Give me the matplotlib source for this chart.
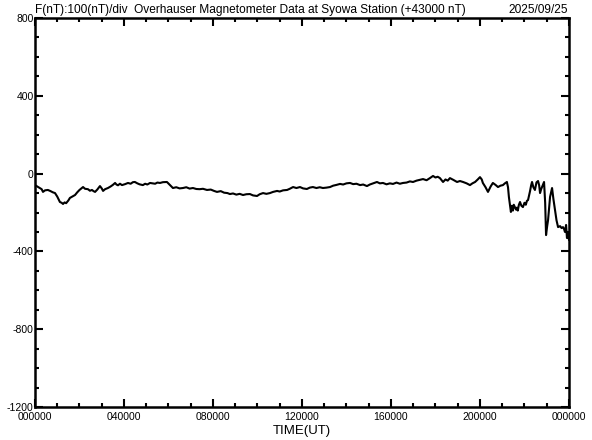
import matplotlib
matplotlib.use('Agg')
import matplotlib.pyplot as plt
from matplotlib.ticker import MultipleLocator

plt.rcParams['font.family'] = ['Liberation Sans', 'DejaVu Sans']

# Время (часы UT) и значения F - 43000 (нТл)
hours = [0.0, 0.10, 0.22, 0.30, 0.36, 0.45, 0.58, 0.70, 0.80, 0.90, 1.00, 1.12,
         1.20, 1.26, 1.33, 1.40, 1.50, 1.57, 1.68, 1.80, 1.90, 2.00, 2.16, 2.25,
         2.38, 2.47, 2.56, 2.63, 2.70, 2.80, 2.92, 3.00, 3.06, 3.15, 3.28, 3.40,
         3.50, 3.60, 3.66, 3.73, 3.82, 3.91, 4.05, 4.18, 4.30, 4.40, 4.49, 4.60,
         4.70, 4.85, 4.95, 5.05, 5.17, 5.28, 5.40, 5.50, 5.62, 5.75, 5.93, 6.07,
         6.20, 6.35, 6.50, 6.65, 6.80, 6.95, 7.10, 7.25, 7.40, 7.55, 7.73, 7.90,
         8.05, 8.18, 8.35, 8.50, 8.65, 8.76, 8.90, 9.05, 9.20, 9.35, 9.50, 9.66,
         9.80, 9.98, 10.10, 10.25, 10.40, 10.56, 10.70, 10.88, 11.00, 11.15,
         11.33, 11.45, 11.60, 11.75, 11.91, 12.05, 12.22, 12.35, 12.49, 12.65,
         12.80, 12.94, 13.10, 13.26, 13.40, 13.55, 13.71, 13.85, 14.00, 14.16,
         14.30, 14.45, 14.61, 14.75, 14.92, 15.05, 15.20, 15.37, 15.50, 15.64,
         15.80, 15.95, 16.09, 16.25, 16.40, 16.54, 16.70, 16.85, 16.99, 17.15,
         17.30, 17.44, 17.60, 17.75, 17.89, 18.00, 18.10, 18.20, 18.34, 18.45,
         18.55, 18.65, 18.80, 18.97, 19.10, 19.24, 19.40, 19.55, 19.66, 19.78,
         19.90, 20.0, 20.08, 20.13, 20.25, 20.36, 20.48, 20.58, 20.70, 20.81,
         20.92, 21.03, 21.12, 21.21, 21.26, 21.30, 21.39, 21.44, 21.48, 21.52,
         21.57, 21.62, 21.66, 21.70, 21.75, 21.80, 21.86, 21.93, 22.00, 22.06,
         22.11, 22.16, 22.21, 22.25, 22.30, 22.34, 22.40, 22.47, 22.54, 22.61,
         22.66, 22.70, 22.75, 22.79, 22.84, 22.88, 22.93, 22.97, 23.02, 23.06,
         23.15, 23.24, 23.30, 23.37, 23.44, 23.51, 23.60, 23.67, 23.73, 23.78,
         23.82, 23.87, 23.91, 23.95, 24.0]
values = [-59, -66, -75, -80, -94, -86, -84, -90, -96, -100, -118, -146,
          -150, -156, -148, -152, -138, -125, -118, -110, -96, -84, -69, -78,
          -80, -88, -84, -90, -94, -82, -64, -76, -89, -80, -74, -66,
          -58, -48, -56, -60, -52, -59, -54, -48, -52, -44, -43, -50,
          -55, -59, -52, -56, -48, -50, -52, -46, -48, -44, -43, -59,
          -74, -70, -76, -74, -70, -77, -74, -79, -80, -78, -84, -82,
          -89, -94, -90, -98, -100, -105, -102, -108, -104, -110, -106, -105,
          -112, -115, -106, -100, -104, -100, -94, -89, -92, -86,
          -84, -78, -69, -74, -69, -76, -79, -72, -69, -74,
          -70, -74, -72, -69, -62, -58, -53, -56, -50, -48,
          -54, -52, -59, -56, -64, -56, -50, -43, -50, -48,
          -55, -50, -53, -46, -52, -48, -46, -40, -43, -36,
          -32, -28, -34, -23, -12, -20, -16, -23, -43, -30,
          -36, -23, -32, -43, -38, -43, -50, -59, -50, -43,
          -30, -18, -30, -48, -70, -94, -66, -48, -58, -69,
          -62, -59, -50, -43, -70, -120, -197, -165, -190, -160,
          -172, -185, -175, -190, -160, -146, -165, -172, -150, -160,
          -140, -136, -110, -90, -60, -43, -70, -84, -45, -38,
          -60, -100, -80, -69, -55, -43, -150, -316, -270, -239,
          -120, -74, -130, -187, -240, -275, -270, -280, -275, -285,
          -300, -264, -331, -300, -340]

xticks = [0, 4, 8, 12, 16, 20, 24]
xlabels = ['000000', '040000', '080000', '120000', '160000', '200000', '000000']
yticks = [-1200, -800, -400, 0, 400, 800]

fig = plt.figure(figsize=(5.92, 4.40), dpi=100, facecolor='white')
ax = fig.add_axes([0.0591, 0.075, 0.902, 0.884])

ax.plot(hours, values, color='black', linewidth=1.5)

ax.set_xlim(0, 24)
ax.set_ylim(-1200, 800)
ax.set_xticks(xticks)
ax.set_xticklabels(xlabels)
ax.set_yticks(yticks)
ax.set_yticklabels([str(v) for v in yticks])
ax.xaxis.set_minor_locator(MultipleLocator(1))
ax.yaxis.set_minor_locator(MultipleLocator(100))

ax.tick_params(which='both', direction='in', top=True, right=True,
               labelsize=7.5, width=1.5)
ax.tick_params(axis='y', pad=1)
ax.tick_params(axis='x', pad=3.5)
ax.tick_params(which='major', length=6)
ax.tick_params(which='minor', length=3)
for s in ax.spines.values():
    s.set_linewidth(1.8)

ax.set_xlabel('TIME(UT)', fontsize=9.5, labelpad=2)

fig.text(0.0591, 0.978, 'F(nT):100(nT)/div  Overhauser Magnetometer Data at Syowa Station (+43000 nT)',
         fontsize=8.6, ha='left', va='center')
fig.text(0.96, 0.978, '2025/09/25', fontsize=8.6, ha='right', va='center')

fig.savefig('out.png', dpi=100)
